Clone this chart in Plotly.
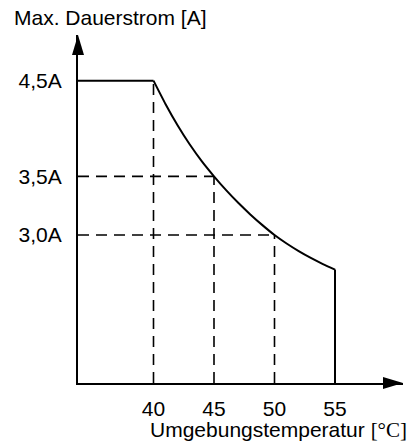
import math
import plotly.graph_objects as go

# ---- data ----
temps_curve = [40, 41, 42, 43, 44, 45, 46, 47, 48, 49, 50, 51, 52, 53, 54, 55]
current_curve = [4.5, 4.23, 4.00, 3.805, 3.64, 3.5, 3.375, 3.265, 3.167, 3.079,
                 3.0, 2.934, 2.876, 2.825, 2.78, 2.74]

guide_temps = [40, 45, 50]
guide_currents = [4.5, 3.5, 3.0]
hguide_temps = [45, 50]
hguide_currents = [3.5, 3.0]

x_tick_vals = [40, 45, 50, 55]
x_tick_text = ["40", "45", "50", "55"]
y_tick_vals = [4.5, 3.5, 3.0]
y_tick_text = ["4,5A", "3,5A", "3,0A"]

# ---- axis ranges ----
X_MIN, X_MAX = 33.76, 60.62
Y_MIN, Y_MAX = 2.034, 5.073   # log axis
LW = 2
FS = 21
FONT = "Liberation Sans, Arial, sans-serif"

fig = go.Figure()

# dashed guides (vertical)
for t, c in zip(guide_temps, guide_currents):
    fig.add_trace(go.Scatter(x=[t, t], y=[Y_MIN, c], mode="lines",
                             line=dict(color="black", width=1.6, dash="11px,7px"),
                             hoverinfo="skip", showlegend=False))
# dashed guides (horizontal)
for t, c in zip(hguide_temps, hguide_currents):
    fig.add_trace(go.Scatter(x=[X_MIN, t], y=[c, c], mode="lines",
                             line=dict(color="black", width=1.6, dash="11px,7px"),
                             hoverinfo="skip", showlegend=False))

# flat part
fig.add_trace(go.Scatter(x=[X_MIN, temps_curve[0]], y=[current_curve[0], current_curve[0]],
                         mode="lines", line=dict(color="black", width=LW),
                         hoverinfo="skip", showlegend=False))
# derating curve
fig.add_trace(go.Scatter(x=temps_curve, y=current_curve, mode="lines",
                         line=dict(color="black", width=LW, shape="spline", smoothing=0.6),
                         hoverinfo="skip", showlegend=False))
# drop at the end
fig.add_trace(go.Scatter(x=[temps_curve[-1], temps_curve[-1]], y=[current_curve[-1], Y_MIN],
                         mode="lines", line=dict(color="black", width=LW),
                         hoverinfo="skip", showlegend=False))

fig.update_layout(
    width=412, height=445,
    margin=dict(l=78, r=9, t=35, b=62),
    paper_bgcolor="white", plot_bgcolor="white",
    font=dict(family=FONT, size=FS, color="black"),
    xaxis=dict(range=[X_MIN, X_MAX], showgrid=False, zeroline=False,
               showline=True, linecolor="black", linewidth=LW,
               tickvals=x_tick_vals, ticktext=x_tick_text, ticks="",
               ticklabelstandoff=6, tickfont=dict(size=FS)),
    yaxis=dict(type="log", range=[math.log10(Y_MIN), math.log10(Y_MAX)],
               showgrid=False, zeroline=False,
               showline=True, linecolor="black", linewidth=LW,
               tickvals=y_tick_vals, ticktext=y_tick_text, ticks="",
               ticklabelstandoff=10, tickfont=dict(size=FS)),
    shapes=[
        dict(type="path", xref="x domain", yref="y domain",
             xsizemode="pixel", ysizemode="pixel", xanchor=0, yanchor=1,
             path="M -6,-20 L 6,-20 L 0,0 Z", fillcolor="black", line=dict(width=0)),
        dict(type="path", xref="x domain", yref="y domain",
             xsizemode="pixel", ysizemode="pixel", xanchor=1, yanchor=0,
             path="M -20,6 L -20,-6 L 0,0 Z", fillcolor="black", line=dict(width=0)),
    ],
    annotations=[
        dict(text="Max. Dauerstrom [A]", xref="paper", yref="paper",
             x=(12 - 78) / 325, y=(383 - 17) / 348, xanchor="left", yanchor="middle",
             showarrow=False, font=dict(size=FS, family=FONT)),
        dict(text="Umgebungstemperatur <span style='font-family:Liberation Serif, Times New Roman, serif'>[°C]</span>",
             xref="paper", yref="paper",
             x=(148 - 78) / 325, y=(383 - 430) / 348, xanchor="left", yanchor="middle",
             showarrow=False, font=dict(size=FS, family=FONT)),
    ],
)

fig.write_html("out.html", config={"displayModeBar": False},
               post_script="document.body.style.margin='0px';")
